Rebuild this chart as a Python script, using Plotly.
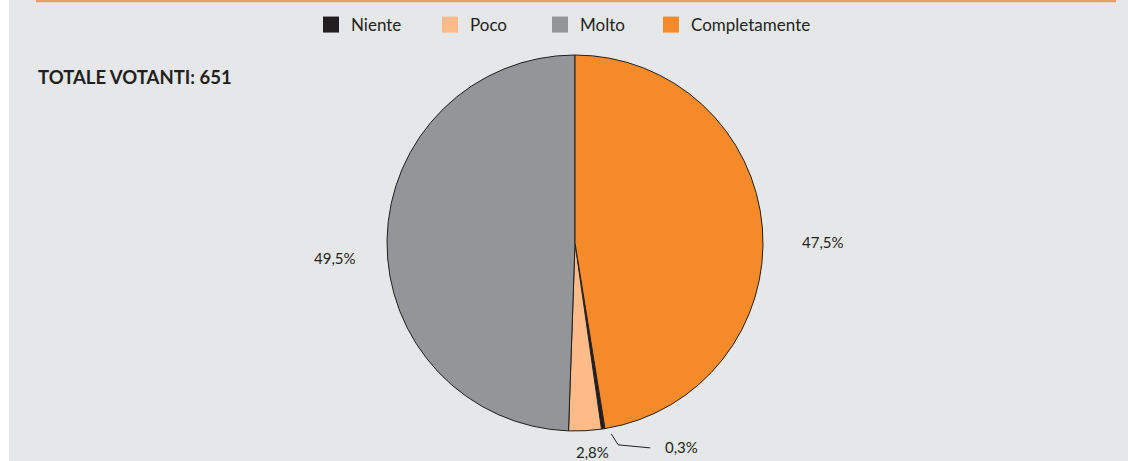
import math
import plotly.graph_objects as go

# Survey answers (share of voters, %)
categories = ["Niente", "Poco", "Molto", "Completamente"]
shares = [0.3, 2.8, 49.5, 47.5]
colors = ["#231f20", "#fcbb88", "#939598", "#f58a2b"]
title_text = "TOTALE VOTANTI: 651"

# Page geometry
W, H = 1128, 461
M_T, M_B = 55, 30
PLOT_H = H - M_T - M_B
CX_PX = 575                      # horizontal centre of the pie
R_PX = PLOT_H / 2                # pie fills the plot height

total = sum(shares)
# start so that "Completamente" begins at 12 o'clock and runs clockwise
rotation = shares[-1] / total * 360

# label offsets (px) from the slice mid-point on the rim
label_shift = {"Niente": (78, 18), "Poco": (7, 21), "Molto": (-52, 18), "Completamente": (61, 14)}
# left edge (px) of each legend entry text
legend_text_x = [348, 467, 577, 688]
LEGEND_Y_PX = 25


def to_paper(px, py):
    return px / W, 1 - (py - M_T) / PLOT_H


def rim_point(angle_deg, r):
    a = math.radians(angle_deg)
    cy = M_T + PLOT_H / 2
    return CX_PX + r * math.sin(a), cy - r * math.cos(a)


fig = go.Figure(
    go.Pie(
        labels=categories,
        values=shares,
        marker=dict(colors=colors, line=dict(color="#231f20", width=1)),
        sort=False,
        direction="clockwise",
        rotation=rotation,
        textinfo="none",
        hoverinfo="label+percent",
        showlegend=False,
        domain=dict(x=[CX_PX / W - 0.3, CX_PX / W + 0.3], y=[0, 1]),
    )
)

# legend keys: one entry per category, each in its own legend box
legend_layout = {}
for i, (cat, col) in enumerate(zip(categories, colors)):
    lid = "legend" if i == 0 else f"legend{i + 1}"
    fig.add_trace(go.Scatter(
        x=[None], y=[None], mode="markers", name=cat,
        marker=dict(symbol="square", size=16, color=col, line=dict(width=0)),
        legend=lid, showlegend=True, hoverinfo="skip",
    ))
    lx, ly = to_paper(legend_text_x[i] - 37, LEGEND_Y_PX)
    legend_layout[lid] = dict(
        x=lx, y=ly, xanchor="left", yanchor="middle",
        orientation="h", bgcolor="rgba(0,0,0,0)",
        font=dict(size=17, color="#231f20"),
    )

annotations = []
shapes = []
start = rotation
for cat, val in zip(categories, shares):
    span = val / total * 360
    mid = start + span / 2
    start += span
    ex, ey = rim_point(mid, R_PX)
    dx, dy = label_shift[cat]
    x, y = to_paper(ex, ey)
    annotations.append(dict(
        x=x, y=y, xref="paper", yref="paper", xanchor="center", yanchor="middle",
        text=f"{val:.1f}".replace(".", ",") + "%",
        showarrow=False, xshift=dx, yshift=-dy,
        font=dict(size=15, color="#231f20"),
    ))
    if cat == "Niente":
        # elbow leader line from the thin slice to its label
        p0 = to_paper(ex + 8, ey + 5)
        p1 = to_paper(ex + 15, ey + 16)
        p2 = to_paper(ex + 47, ey + 19)
        shapes.append(dict(
            type="path", xref="paper", yref="paper",
            path=f"M {p0[0]},{p0[1]} L {p1[0]},{p1[1]} L {p2[0]},{p2[1]}",
            line=dict(color="#231f20", width=1),
        ))

tx, ty = to_paper(36, 77)
annotations.append(dict(
    x=tx, y=ty, xref="paper", yref="paper", xanchor="left", yanchor="middle",
    text=f"<b>{title_text}</b>", showarrow=False,
    font=dict(size=18.5, color="#231f20"),
))

# white strip on the left and the orange rule along the top
sx0, sy0 = to_paper(0, H)
sx1, sy1 = to_paper(9, 0)
shapes.append(dict(type="rect", xref="paper", yref="paper", x0=sx0, y0=sy0, x1=sx1, y1=sy1,
                   fillcolor="white", line=dict(width=0), layer="below"))
lx0, ly = to_paper(36, 1)
lx1, _ = to_paper(1116, 1)
shapes.append(dict(type="line", xref="paper", yref="paper", x0=lx0, y0=ly, x1=lx1, y1=ly,
                   line=dict(color="#f09a68", width=2.5)))

fig.update_layout(
    width=W, height=H,
    margin=dict(l=0, r=0, t=M_T, b=M_B),
    paper_bgcolor="#e6e7e8",
    plot_bgcolor="rgba(0,0,0,0)",
    font=dict(family="Lato, 'Open Sans', sans-serif", color="#231f20"),
    xaxis=dict(visible=False),
    yaxis=dict(visible=False),
    annotations=annotations,
    shapes=shapes,
    **legend_layout,
)

fig.write_html("out.html")
